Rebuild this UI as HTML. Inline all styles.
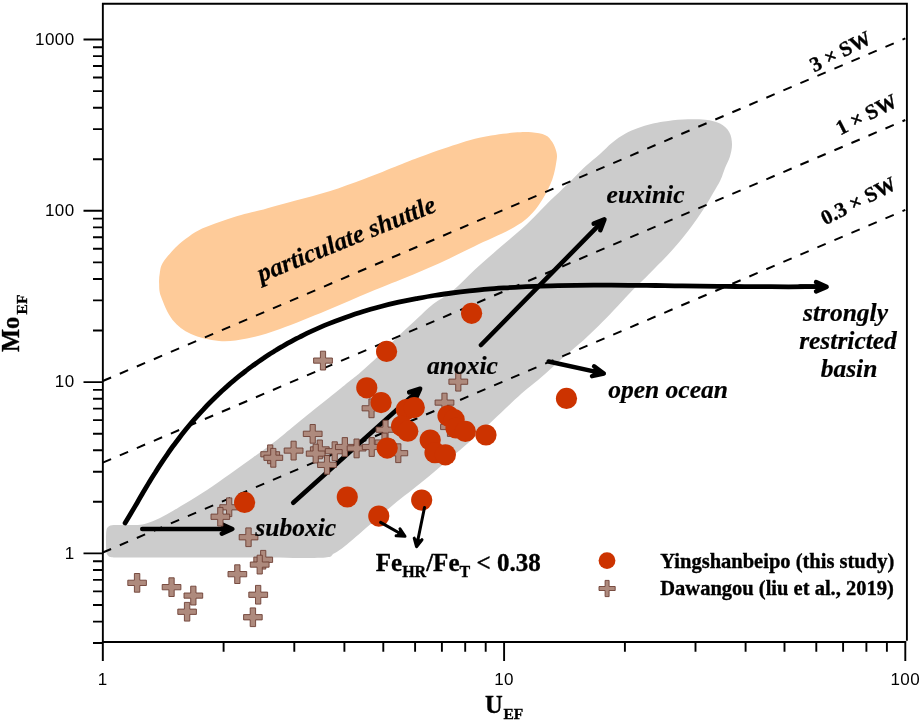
<!DOCTYPE html>
<html><head><meta charset="utf-8"><title>Mo-EF vs U-EF</title>
<style>
html,body{margin:0;padding:0;background:#fff}
svg{display:block}
.sans{font-family:"Liberation Sans",sans-serif}
.bi{font-family:"Liberation Serif",serif;font-weight:bold;font-style:italic}
.b{font-family:"Liberation Serif",serif;font-weight:bold}
</style></head><body>
<svg width="922" height="722" viewBox="0 0 922 722">
<rect width="922" height="722" fill="#fff"/>
<path d="M159.1 283.3C158.9 279.4 159.2 276.4 159.8 272.9C160.5 269.4 160.3 266.8 163.0 262.5C165.7 258.2 171.7 251.2 176.0 246.9C180.3 242.6 184.7 239.5 189.0 236.4C193.3 233.3 197.8 230.8 202.1 228.6C206.4 226.4 210.8 225.0 215.1 223.4C219.4 221.8 223.8 220.3 228.1 218.9C232.4 217.5 235.8 216.4 241.1 215.0C246.4 213.6 251.1 212.7 260.0 210.3C268.9 207.9 283.1 203.9 294.7 200.7C306.3 197.5 317.8 194.8 329.4 191.2C341.0 187.6 352.5 183.3 364.1 179.0C375.7 174.7 389.5 168.9 398.8 165.2C408.1 161.5 412.4 159.8 420.0 157.0C427.6 154.2 434.8 151.4 444.7 148.2C454.6 145.0 467.8 140.4 479.4 137.8C491.0 135.2 505.4 133.5 514.1 132.6C522.8 131.7 526.3 131.8 531.5 132.2C536.7 132.6 541.9 133.5 545.4 135.2C548.9 136.8 550.5 139.4 552.3 142.1C554.1 144.8 555.6 148.6 556.3 151.6C557.0 154.6 557.3 155.7 556.6 160.3C555.9 164.9 554.8 172.8 552.3 179.4C549.8 186.1 545.8 194.0 541.9 200.2C538.0 206.4 534.1 211.7 529.0 216.5C523.9 221.3 520.1 224.0 511.0 229.0C501.9 234.0 486.0 240.7 474.1 246.4C462.2 252.1 451.0 257.9 439.4 263.2C427.8 268.5 416.3 273.2 404.7 278.0C393.1 282.8 383.0 286.6 370.0 292.0C357.0 297.4 341.6 304.4 326.6 310.6C311.6 316.8 293.3 324.3 280.0 329.0C266.7 333.7 257.2 336.6 247.0 338.6C236.8 340.6 228.3 341.8 219.0 341.0C209.7 340.2 198.7 337.5 191.0 334.0C183.3 330.5 177.6 326.2 172.6 320.0C167.6 313.8 163.2 302.7 161.0 296.6C158.8 290.5 159.3 287.2 159.1 283.3Z" fill="#fecb99"/>
<path d="M106.0 541.0C106.0 537.6 106.0 533.3 106.3 531.0C106.6 528.7 107.0 528.0 108.0 527.0C109.0 526.0 109.2 525.5 112.0 525.2C114.8 524.9 120.7 525.2 125.0 525.1C129.3 525.0 134.3 525.2 138.0 524.9C141.7 524.6 143.3 524.4 147.0 523.2C150.7 522.1 155.7 520.1 160.0 518.0C164.3 515.9 168.8 513.3 173.1 510.8C177.4 508.3 180.4 506.5 186.1 503.0C191.8 499.5 199.7 494.8 207.0 490.0C214.3 485.2 222.3 479.4 230.0 474.0C237.7 468.6 245.2 463.2 253.0 457.5C260.8 451.8 269.2 446.1 277.0 440.0C284.8 433.9 288.7 430.1 300.0 421.0C311.3 411.9 334.6 393.2 344.6 385.2C354.6 377.2 354.2 377.8 360.0 372.8C365.8 367.8 373.0 361.3 379.5 355.1C386.0 348.9 392.5 341.9 399.0 335.6C405.5 329.3 413.0 322.5 418.6 317.3C424.2 312.1 427.2 308.8 432.9 304.3C438.6 299.8 446.0 296.3 453.0 290.5C460.0 284.7 467.5 276.3 474.7 269.7C481.9 263.1 489.8 256.4 496.4 250.6C503.0 244.8 509.3 239.6 514.6 235.0C519.9 230.4 524.2 226.8 528.4 222.8C532.6 218.8 536.4 214.8 540.0 211.1C543.6 207.4 546.7 204.0 550.0 200.7C553.3 197.4 556.2 195.0 560.0 191.4C563.8 187.8 568.2 183.5 572.5 179.3C576.8 175.1 580.9 170.5 585.5 166.3C590.1 162.1 595.6 157.8 600.0 153.9C604.4 150.0 607.9 146.0 612.1 142.7C616.3 139.3 620.8 136.2 625.1 133.8C629.4 131.4 633.8 129.6 638.1 128.0C642.4 126.4 646.8 125.2 651.1 124.1C655.4 123.0 658.8 122.3 664.1 121.5C669.4 120.7 676.1 119.7 683.0 119.4C689.9 119.1 699.0 119.0 705.2 119.7C711.4 120.4 716.0 121.5 720.0 123.6C724.0 125.7 727.3 128.8 729.3 132.2C731.3 135.6 731.9 140.2 732.0 144.3C732.1 148.4 731.0 153.1 729.8 157.0C728.6 160.9 726.5 164.2 725.0 168.0C723.5 171.8 722.5 175.8 720.5 180.0C718.5 184.2 715.9 188.3 713.0 193.3C710.1 198.3 706.6 204.5 703.0 210.0C699.4 215.5 695.6 221.0 691.5 226.5C687.4 232.0 682.6 237.9 678.2 243.2C673.8 248.5 669.3 253.4 664.9 258.1C660.5 262.8 655.7 267.3 651.6 271.4C647.5 275.5 643.8 279.3 640.5 282.5C637.2 285.7 636.5 286.0 632.0 290.7C627.5 295.4 619.0 304.7 613.5 310.5C608.0 316.3 603.7 320.8 598.7 325.7C593.7 330.6 588.6 335.6 583.5 340.2C578.4 344.8 573.3 348.7 568.2 353.1C563.1 357.5 558.1 362.2 553.0 366.8C547.9 371.4 542.8 376.0 537.5 380.5C532.2 385.0 528.5 387.3 521.0 394.0C513.5 400.7 502.2 411.8 492.8 420.5C483.4 429.2 476.0 436.1 464.6 446.0C453.2 455.9 436.3 470.2 424.4 480.0C412.5 489.8 403.5 496.3 393.0 505.0C382.5 513.7 369.5 525.2 361.5 532.0C353.5 538.8 349.6 542.4 345.0 546.0C340.4 549.6 338.0 551.5 334.0 553.5C330.0 555.5 335.0 557.1 321.0 557.8C307.0 558.5 273.5 557.6 250.0 557.6C226.5 557.6 200.8 557.5 180.0 557.5C159.2 557.5 136.3 557.4 125.0 557.4C113.7 557.4 114.8 557.6 112.0 557.3C109.2 557.0 109.0 556.5 108.0 555.5C107.0 554.5 106.6 553.9 106.3 551.5C106.0 549.1 106.0 544.4 106.0 541.0Z" fill="#cccccc"/>
<line x1="102.8" y1="381.0" x2="905.3" y2="38.4" stroke="#000" stroke-width="2" stroke-dasharray="9 9.5"/>
<line x1="102.8" y1="462.6" x2="905.3" y2="120.0" stroke="#000" stroke-width="2" stroke-dasharray="9 9.5"/>
<line x1="102.8" y1="552.5" x2="905.3" y2="209.9" stroke="#000" stroke-width="2" stroke-dasharray="9 9.5"/>
<path d="M125.1 523.0C126.1 521.3 129.1 516.4 131.1 513.1C133.1 509.7 135.2 506.1 137.2 502.7C139.2 499.2 141.2 495.7 143.2 492.3C145.2 488.9 147.2 485.5 149.2 482.2C151.2 478.9 153.2 475.7 155.3 472.5C157.3 469.3 159.3 466.2 161.3 463.2C163.3 460.1 165.3 457.1 167.3 454.3C169.3 451.4 171.3 448.5 173.3 445.8C175.4 443.0 177.4 440.4 179.4 437.7C181.4 435.1 183.4 432.6 185.4 430.1C187.4 427.6 189.4 425.2 191.4 422.8C193.5 420.4 195.5 418.1 197.5 415.9C199.5 413.6 201.5 411.4 203.5 409.3C205.5 407.1 207.5 405.0 209.5 403.0C211.5 401.0 213.6 399.0 215.6 397.0C217.6 395.1 219.6 393.2 221.6 391.3C223.6 389.5 225.6 387.6 227.6 385.9C229.6 384.1 231.6 382.4 233.7 380.7C235.7 379.0 237.7 377.3 239.7 375.7C241.7 374.1 243.7 372.5 245.7 371.0C247.7 369.4 249.7 367.9 251.8 366.4C253.8 365.0 255.8 363.5 257.8 362.1C259.8 360.7 261.8 359.3 263.8 358.0C265.8 356.6 267.8 355.3 269.8 354.0C271.9 352.8 273.9 351.5 275.9 350.3C277.9 349.0 279.9 347.8 281.9 346.7C283.9 345.5 285.9 344.3 287.9 343.2C289.9 342.1 292.0 341.0 294.0 339.9C296.0 338.9 297.3 338.1 300.0 336.8C302.7 335.5 305.4 334.0 310.0 331.9C314.6 329.8 321.8 326.5 327.7 324.1C333.6 321.7 339.5 319.5 345.4 317.4C351.4 315.3 357.3 313.3 363.2 311.5C369.1 309.7 375.0 308.1 380.9 306.5C386.8 304.9 392.7 303.5 398.6 302.2C404.5 300.9 410.4 299.7 416.3 298.6C422.3 297.5 428.2 296.4 434.1 295.5C440.0 294.6 445.9 293.7 451.8 293.0C457.7 292.2 463.6 291.5 469.5 290.9C475.4 290.3 481.3 289.7 487.2 289.2C493.1 288.7 499.1 288.3 505.0 287.9C510.9 287.5 516.8 287.2 522.7 286.9C528.6 286.6 534.5 286.4 540.4 286.2C546.3 286.0 552.2 285.8 558.1 285.7C564.0 285.5 570.0 285.4 575.9 285.4C581.8 285.3 587.7 285.2 593.6 285.2C599.5 285.2 605.4 285.2 611.3 285.2C617.2 285.2 623.1 285.2 629.0 285.3C634.9 285.3 640.9 285.3 646.8 285.4C652.7 285.5 658.6 285.5 664.5 285.6C670.4 285.7 676.3 285.8 682.2 285.8C688.1 285.9 694.0 286.0 699.9 286.1C705.8 286.2 711.7 286.2 717.7 286.3C723.6 286.4 729.5 286.4 735.4 286.5C741.3 286.6 747.2 286.6 753.1 286.7C759.0 286.7 764.9 286.7 770.8 286.7C776.7 286.8 782.6 286.8 788.6 286.8C794.5 286.7 800.4 286.7 806.3 286.7C812.2 286.6 821.0 286.5 824.0 286.5" fill="none" stroke="#000" stroke-width="4.8" stroke-linecap="round"/>
<g stroke="#000" stroke-width="4.6" stroke-linecap="round" stroke-linejoin="round"><line x1="800.0" y1="286.6" x2="824.6" y2="286.8"/><path d="M816.1 291.3 L826.6 286.8 L816.1 282.1" fill="#000"/></g>
<g stroke="#000" stroke-width="4.6" stroke-linecap="round" stroke-linejoin="round"><line x1="142.3" y1="529.0" x2="230.3" y2="529.0"/><path d="M221.8 533.6 L232.3 529.0 L221.8 524.4" fill="#000"/></g>
<g stroke="#000" stroke-width="4.6" stroke-linecap="round" stroke-linejoin="round"><line x1="293.2" y1="502.7" x2="418.6" y2="390.1"/><path d="M415.4 399.2 L420.1 388.7 L409.2 392.3" fill="#000"/></g>
<g stroke="#000" stroke-width="4.6" stroke-linecap="round" stroke-linejoin="round"><line x1="481.0" y1="345.0" x2="603.0" y2="220.9"/><path d="M600.3 230.2 L604.4 219.4 L593.7 223.7" fill="#000"/></g>
<g stroke="#000" stroke-width="4.5" stroke-linecap="round" stroke-linejoin="round"><line x1="548.6" y1="361.5" x2="601.8" y2="373.1"/><path d="M592.0 376.1 L603.8 373.5 L594.1 366.3" fill="#000"/></g>
<g fill="#ae8a7d" stroke="#6e4034" stroke-width="0.9">
<path d="M134.4 573.5 L139.8 573.5 L139.8 580.2 L146.4 580.2 L146.4 585.5 L139.8 585.5 L139.8 592.2 L134.4 592.2 L134.4 585.5 L127.8 585.5 L127.8 580.2 L134.4 580.2Z"/>
<path d="M168.9 577.8 L174.2 577.8 L174.2 584.5 L180.9 584.5 L180.9 589.8 L174.2 589.8 L174.2 596.5 L168.9 596.5 L168.9 589.8 L162.2 589.8 L162.2 584.5 L168.9 584.5Z"/>
<path d="M190.7 586.2 L196.0 586.2 L196.0 593.0 L202.7 593.0 L202.7 598.2 L196.0 598.2 L196.0 605.0 L190.7 605.0 L190.7 598.2 L184.0 598.2 L184.0 593.0 L190.7 593.0Z"/>
<path d="M184.4 602.4 L189.8 602.4 L189.8 609.1 L196.4 609.1 L196.4 614.4 L189.8 614.4 L189.8 621.1 L184.4 621.1 L184.4 614.4 L177.8 614.4 L177.8 609.1 L184.4 609.1Z"/>
<path d="M250.2 607.9 L255.6 607.9 L255.6 614.6 L262.2 614.6 L262.2 619.9 L255.6 619.9 L255.6 626.6 L250.2 626.6 L250.2 619.9 L243.6 619.9 L243.6 614.6 L250.2 614.6Z"/>
<path d="M255.5 585.4 L260.8 585.4 L260.8 592.1 L267.6 592.1 L267.6 597.4 L260.8 597.4 L260.8 604.1 L255.5 604.1 L255.5 597.4 L248.8 597.4 L248.8 592.1 L255.5 592.1Z"/>
<path d="M234.7 564.8 L240.0 564.8 L240.0 571.5 L246.7 571.5 L246.7 576.8 L240.0 576.8 L240.0 583.5 L234.7 583.5 L234.7 576.8 L228.0 576.8 L228.0 571.5 L234.7 571.5Z"/>
<path d="M260.6 550.4 L265.8 550.4 L265.8 557.1 L272.6 557.1 L272.6 562.4 L265.8 562.4 L265.8 569.1 L260.6 569.1 L260.6 562.4 L253.8 562.4 L253.8 557.1 L260.6 557.1Z"/>
<path d="M257.1 555.2 L262.3 555.2 L262.3 562.0 L269.1 562.0 L269.1 567.2 L262.3 567.2 L262.3 574.0 L257.1 574.0 L257.1 567.2 L250.3 567.2 L250.3 562.0 L257.1 562.0Z"/>
<path d="M245.8 527.9 L251.2 527.9 L251.2 534.6 L257.9 534.6 L257.9 539.9 L251.2 539.9 L251.2 546.6 L245.8 546.6 L245.8 539.9 L239.2 539.9 L239.2 534.6 L245.8 534.6Z"/>
<path d="M226.5 497.9 L231.8 497.9 L231.8 504.7 L238.5 504.7 L238.5 509.9 L231.8 509.9 L231.8 516.6 L226.5 516.6 L226.5 509.9 L219.8 509.9 L219.8 504.7 L226.5 504.7Z"/>
<path d="M217.7 507.4 L223.0 507.4 L223.0 514.1 L229.7 514.1 L229.7 519.4 L223.0 519.4 L223.0 526.1 L217.7 526.1 L217.7 519.4 L211.0 519.4 L211.0 514.1 L217.7 514.1Z"/>
<path d="M320.4 351.2 L325.6 351.2 L325.6 358.0 L332.4 358.0 L332.4 363.2 L325.6 363.2 L325.6 370.0 L320.4 370.0 L320.4 363.2 L313.6 363.2 L313.6 358.0 L320.4 358.0Z"/>
<path d="M368.9 398.9 L374.1 398.9 L374.1 405.7 L380.9 405.7 L380.9 410.9 L374.1 410.9 L374.1 417.7 L368.9 417.7 L368.9 410.9 L362.1 410.9 L362.1 405.7 L368.9 405.7Z"/>
<path d="M382.9 420.3 L388.1 420.3 L388.1 427.1 L394.9 427.1 L394.9 432.3 L388.1 432.3 L388.1 439.1 L382.9 439.1 L382.9 432.3 L376.1 432.3 L376.1 427.1 L382.9 427.1Z"/>
<path d="M310.1 424.5 L315.3 424.5 L315.3 431.2 L322.1 431.2 L322.1 436.5 L315.3 436.5 L315.3 443.2 L310.1 443.2 L310.1 436.5 L303.3 436.5 L303.3 431.2 L310.1 431.2Z"/>
<path d="M267.6 444.9 L272.8 444.9 L272.8 451.7 L279.6 451.7 L279.6 456.9 L272.8 456.9 L272.8 463.7 L267.6 463.7 L267.6 456.9 L260.8 456.9 L260.8 451.7 L267.6 451.7Z"/>
<path d="M270.7 448.4 L275.9 448.4 L275.9 455.2 L282.7 455.2 L282.7 460.4 L275.9 460.4 L275.9 467.2 L270.7 467.2 L270.7 460.4 L263.9 460.4 L263.9 455.2 L270.7 455.2Z"/>
<path d="M291.0 441.2 L296.2 441.2 L296.2 448.0 L303.0 448.0 L303.0 453.2 L296.2 453.2 L296.2 460.0 L291.0 460.0 L291.0 453.2 L284.2 453.2 L284.2 448.0 L291.0 448.0Z"/>
<path d="M317.2 440.0 L322.4 440.0 L322.4 446.8 L329.2 446.8 L329.2 452.0 L322.4 452.0 L322.4 458.8 L317.2 458.8 L317.2 452.0 L310.4 452.0 L310.4 446.8 L317.2 446.8Z"/>
<path d="M313.1 444.2 L318.3 444.2 L318.3 451.0 L325.1 451.0 L325.1 456.2 L318.3 456.2 L318.3 463.0 L313.1 463.0 L313.1 456.2 L306.3 456.2 L306.3 451.0 L313.1 451.0Z"/>
<path d="M324.4 455.5 L329.6 455.5 L329.6 462.2 L336.4 462.2 L336.4 467.5 L329.6 467.5 L329.6 474.2 L324.4 474.2 L324.4 467.5 L317.6 467.5 L317.6 462.2 L324.4 462.2Z"/>
<path d="M332.1 441.8 L337.3 441.8 L337.3 448.6 L344.1 448.6 L344.1 453.8 L337.3 453.8 L337.3 460.6 L332.1 460.6 L332.1 453.8 L325.3 453.8 L325.3 448.6 L332.1 448.6Z"/>
<path d="M342.2 437.6 L347.5 437.6 L347.5 444.4 L354.2 444.4 L354.2 449.6 L347.5 449.6 L347.5 456.4 L342.2 456.4 L342.2 449.6 L335.5 449.6 L335.5 444.4 L342.2 444.4Z"/>
<path d="M354.0 439.0 L359.2 439.0 L359.2 445.8 L366.0 445.8 L366.0 451.0 L359.2 451.0 L359.2 457.8 L354.0 457.8 L354.0 451.0 L347.2 451.0 L347.2 445.8 L354.0 445.8Z"/>
<path d="M381.9 433.1 L387.1 433.1 L387.1 439.9 L393.9 439.9 L393.9 445.1 L387.1 445.1 L387.1 451.9 L381.9 451.9 L381.9 445.1 L375.1 445.1 L375.1 439.9 L381.9 439.9Z"/>
<path d="M369.1 437.6 L374.3 437.6 L374.3 444.4 L381.1 444.4 L381.1 449.6 L374.3 449.6 L374.3 456.4 L369.1 456.4 L369.1 449.6 L362.3 449.6 L362.3 444.4 L369.1 444.4Z"/>
<path d="M395.7 443.8 L400.9 443.8 L400.9 450.6 L407.7 450.6 L407.7 455.8 L400.9 455.8 L400.9 462.6 L395.7 462.6 L395.7 455.8 L388.9 455.8 L388.9 450.6 L395.7 450.6Z"/>
<path d="M455.7 372.3 L460.9 372.3 L460.9 379.1 L467.7 379.1 L467.7 384.3 L460.9 384.3 L460.9 391.1 L455.7 391.1 L455.7 384.3 L448.9 384.3 L448.9 379.1 L455.7 379.1Z"/>
<path d="M441.9 393.2 L447.1 393.2 L447.1 400.0 L453.9 400.0 L453.9 405.2 L447.1 405.2 L447.1 412.0 L441.9 412.0 L441.9 405.2 L435.1 405.2 L435.1 400.0 L441.9 400.0Z"/>
<path d="M447.4 417.6 L452.6 417.6 L452.6 424.4 L459.4 424.4 L459.4 429.6 L452.6 429.6 L452.6 436.4 L447.4 436.4 L447.4 429.6 L440.6 429.6 L440.6 424.4 L447.4 424.4Z"/>
</g>
<g fill="#cc3300">
<circle cx="244.6" cy="502.4" r="10.6"/>
<circle cx="386.6" cy="351.4" r="10.6"/>
<circle cx="366.8" cy="387.8" r="10.6"/>
<circle cx="381.1" cy="402.6" r="10.6"/>
<circle cx="406.4" cy="409.5" r="10.6"/>
<circle cx="414.3" cy="407.6" r="10.6"/>
<circle cx="401.6" cy="426.0" r="10.6"/>
<circle cx="407.8" cy="431.2" r="10.6"/>
<circle cx="387.2" cy="448.1" r="10.6"/>
<circle cx="471.6" cy="313.3" r="10.6"/>
<circle cx="448.0" cy="415.8" r="10.6"/>
<circle cx="454.2" cy="419.7" r="10.6"/>
<circle cx="456.0" cy="428.0" r="10.6"/>
<circle cx="465.4" cy="431.4" r="10.6"/>
<circle cx="486.0" cy="435.0" r="10.6"/>
<circle cx="430.2" cy="440.0" r="10.6"/>
<circle cx="435.0" cy="452.7" r="10.6"/>
<circle cx="445.4" cy="454.8" r="10.6"/>
<circle cx="347.3" cy="497.0" r="10.6"/>
<circle cx="421.7" cy="500.1" r="10.6"/>
<circle cx="378.8" cy="516.1" r="10.6"/>
<circle cx="566.5" cy="398.4" r="10.6"/>
<circle cx="607" cy="560.6" r="8.4"/>
</g>
<g fill="#ae8a7d" stroke="#6e4034" stroke-width="0.9"><path d="M605.1 580.4 L609.1 580.4 L609.1 586.5 L615.2 586.5 L615.2 590.5 L609.1 590.5 L609.1 596.6 L605.1 596.6 L605.1 590.5 L599.0 590.5 L599.0 586.5 L605.1 586.5Z"/></g>
<g stroke="#000" stroke-width="3.0" stroke-linecap="round" stroke-linejoin="round"><line x1="380.6" y1="522.4" x2="403.3" y2="535.3"/><path d="M396.1 535.8 L405.0 536.3 L400.0 528.8" fill="#000"/></g>
<g stroke="#000" stroke-width="3.0" stroke-linecap="round" stroke-linejoin="round"><line x1="424.5" y1="507.5" x2="416.9" y2="544.8"/><path d="M414.2 538.1 L416.5 546.7 L422.0 539.7" fill="#000"/></g>
<g stroke="#000" stroke-width="1.9" fill="none">
<path d="M102.85 661 V3.8 H906.9 V640.8M101.85 642 H906.3M102.8 642.1 V661M223.6 642.1 V651.7M294.3 642.1 V651.7M344.4 642.1 V651.7M383.3 642.1 V651.7M415.1 642.1 V651.7M441.9 642.1 V651.7M465.2 642.1 V651.7M485.7 642.1 V651.7M504.1 642.1 V661M624.9 642.1 V651.7M695.5 642.1 V651.7M745.6 642.1 V651.7M784.5 642.1 V651.7M816.3 642.1 V651.7M843.1 642.1 V651.7M866.4 642.1 V651.7M886.9 642.1 V651.7M905.3 642.1 V661M93 643.0 H102.8M93 621.6 H102.8M93 605.0 H102.8M93 591.4 H102.8M93 579.9 H102.8M93 570.0 H102.8M93 561.2 H102.8M83.5 553.4 H102.8M93 501.8 H102.8M93 471.7 H102.8M93 450.3 H102.8M93 433.7 H102.8M93 420.1 H102.8M93 408.6 H102.8M93 398.7 H102.8M93 389.9 H102.8M83.5 382.1 H102.8M93 330.5 H102.8M93 300.4 H102.8M93 279.0 H102.8M93 262.4 H102.8M93 248.8 H102.8M93 237.3 H102.8M93 227.4 H102.8M93 218.6 H102.8M83.5 210.8 H102.8M93 159.2 H102.8M93 129.1 H102.8M93 107.7 H102.8M93 91.1 H102.8M93 77.5 H102.8M93 66.0 H102.8M93 56.1 H102.8M93 47.3 H102.8M83.5 39.5 H102.8"/>
</g>
<g class="sans" font-size="17" fill="#000" letter-spacing="0.4">
<text x="74.5" y="558.7" text-anchor="end">1</text>
<text x="74.5" y="387.4" text-anchor="end">10</text>
<text x="74.5" y="216.1" text-anchor="end">100</text>
<text x="74.5" y="44.8" text-anchor="end">1000</text>
<text x="102.8" y="684.8" text-anchor="middle">1</text>
<text x="504.1" y="684.8" text-anchor="middle">10</text>
<text x="905.3" y="684.8" text-anchor="middle">100</text>
</g>
<text class="b" font-size="24.5" x="485" y="713" stroke="#000" stroke-width="0.35">U<tspan font-size="15.5" dx="0.8" dy="6.4">EF</tspan></text>
<text class="b" font-size="24.5" stroke="#000" stroke-width="0.35" transform="translate(19.4 352) rotate(-90)">Mo<tspan font-size="15.5" dx="2.2" dy="7.6">EF</tspan></text>
<g class="bi" font-size="25.5" fill="#000" stroke="#000" stroke-width="0.2">
<text x="606.6" y="202.6">euxinic</text>
<text x="427" y="373.7">anoxic</text>
<text x="255.3" y="536.3">suboxic</text>
<text x="608.2" y="397.9">open ocean</text>
<text x="845.5" y="320.5" text-anchor="middle">strongly</text>
<text x="848" y="348.7" text-anchor="middle">restricted</text>
<text x="849" y="376.9" text-anchor="middle">basin</text>
<text font-size="25.5" transform="translate(349.4 246.6) rotate(-22)" text-anchor="middle">particulate shuttle</text>
</g>
<g class="b" fill="#000" stroke="#000" stroke-width="0.35">
<text font-size="25" x="375.8" y="571">Fe<tspan font-size="16" dy="5.7">HR</tspan><tspan dy="-5.7">/Fe</tspan><tspan font-size="16" dy="5.7">T</tspan><tspan dy="-5.7"> &lt; 0.38</tspan></text>
<text font-size="20.5" x="660.3" y="567.7">Yingshanbeipo (this study)</text>
<text font-size="20.5" x="660.3" y="595.3">Dawangou (liu et al., 2019)</text>
<text font-size="21" transform="translate(843.5 57.5) rotate(-27)" text-anchor="middle">3 × SW</text>
<text font-size="21" transform="translate(869.5 120.5) rotate(-27)" text-anchor="middle">1 × SW</text>
<text font-size="21" transform="translate(861.5 207) rotate(-27)" text-anchor="middle">0.3 × SW</text>
</g>
</svg></body></html>
